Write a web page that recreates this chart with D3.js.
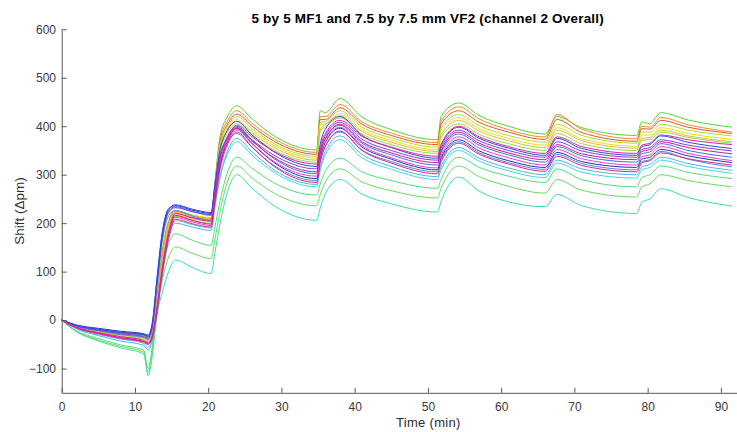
<!DOCTYPE html>
<html>
<head>
<meta charset="utf-8">
<script src="https://cdn.jsdelivr.net/npm/d3@7"></script>
<style>
  body { margin: 0; background: #fff; }
  svg { display: block; font-family: "Liberation Sans", Arial, Helvetica, sans-serif; }
</style>
</head>
<body>
<svg id="chart" width="737" height="432"></svg>
<script>
// Sample times (min) shared by every channel trace
const timeMin = [0, 2, 5, 8, 11.2, 11.8, 12.4, 13.0, 13.7, 14.6, 15.5, 17.8, 20.4, 20.9, 21.6, 22.6, 23.9, 26, 29, 34.8,
                 35.3, 36.0, 38, 41, 45, 51.3, 51.8, 54.2, 57, 61, 66, 67.6, 71, 78.5, 79.2, 80.3, 81.8, 85.5, 91.5];

// Shift (Δpm) of each trace at those times
const s01 = [0,-11,-19,-25,-30,-34,-20,45,140,205,226,217,210,280,377,419,442,415,380,351,432,428,457,419,393,372,420,448,422,400,384,420,397,381,409,405,428,413,398];
const s02 = [0,-11,-20,-26,-32,-36,-22,40,130,200,224,216,210,277,370,410,432,406,374,346,420,420,445,409,386,366,410,440,415,393,378,424,394,374,400,398,418,403,388];
const s03 = [0,-12,-22,-29,-35,-39,-25,35,120,195,220,212,206,272,364,403,425,400,369,342,414,414,438,404,381,362,404,432,408,388,373,414,387,369,395,394,412,398,385];
const s04 = [0,-13,-24,-31,-38,-42,-28,30,115,190,216,209,204,269,360,398,420,395,364,338,408,410,432,398,376,357,397,424,401,381,367,404,381,365,388,388,404,392,380];
const s05 = [0,-13,-22,-30,-36,-40,-26,32,118,192,220,216,212,273,357,394,414,390,360,334,404,405,427,393,371,352,392,418,395,375,361,397,374,359,382,382,397,385,373];
const s06 = [0,-12,-20,-27,-33,-37,-22,38,125,198,222,214,208,269,353,390,410,386,356,330,394,404,422,389,367,348,383,412,390,370,356,392,370,355,375,377,392,380,368];
const s07 = [0,-14,-25,-33,-40,-44,-30,28,110,186,214,206,200,262,344,385,405,381,351,326,390,399,417,384,362,344,378,405,383,364,350,385,364,350,371,373,388,377,365];
const s08 = [0,-15,-26,-34,-42,-46,-30,25,105,182,220,211,204,254,323,374,402,378,348,322,358,385,412,379,357,338,363,400,378,358,344,378,358,344,361,365,382,372,362];
const s09 = [0,-11,-19,-25,-30,-33,-5,80,175,228,238,229,222,278,350,391,410,382,347,317,363,394,420,381,356,334,360,398,375,355,340,375,354,340,358,362,380,367,354];
const s10 = [0,-12,-21,-28,-34,-37,-10,70,165,222,232,224,218,268,335,376,398,372,340,312,350,381,408,373,350,330,355,392,370,350,336,368,349,336,352,356,372,361,349];
const s11 = [0,-15,-27,-36,-44,-48,-32,22,100,178,216,206,198,248,317,368,396,369,335,306,345,375,404,368,345,325,350,388,365,345,331,362,343,331,348,352,368,356,343];
const s12 = [0,-11,-19,-26,-31,-34,-8,75,170,225,234,224,216,268,336,378,400,371,333,302,342,374,402,365,341,320,346,384,361,341,326,358,339,326,343,347,364,350,336];
const s13 = [0,-16,-28,-38,-46,-50,-35,18,95,172,212,203,195,244,313,364,392,364,327,297,337,368,398,360,335,314,340,378,355,335,320,352,333,320,337,341,358,344,329];
const s14 = [0,-10,-17,-23,-28,-31,-2,85,178,230,236,227,220,269,334,374,395,364,325,292,334,367,396,357,332,310,335,372,349,329,315,346,327,315,332,336,352,339,325];
const s15 = [0,-16,-28,-37,-45,-50,-36,15,92,168,208,199,192,241,310,361,388,357,317,284,326,358,390,350,324,302,327,365,342,322,307,338,319,306,324,329,345,333,320];
const s16 = [0,-13,-22,-30,-36,-40,-15,65,160,215,226,215,206,256,322,364,385,356,319,288,328,360,388,351,327,306,331,368,345,325,311,342,323,310,327,331,348,332,316];
const s17 = [0,-18,-32,-43,-52,-62,-40,10,90,170,200,192,185,233,295,347,375,347,310,280,315,348,380,342,317,296,317,356,334,314,300,330,312,300,316,321,336,323,309];
const s18 = [0,-17,-30,-39,-48,-56,-35,15,95,172,205,197,190,235,293,341,368,340,305,275,309,341,372,335,311,290,311,350,328,308,294,324,305,293,310,315,330,317,303];
const s19 = [0,-22,-38,-51,-62,-100,-50,40,105,158,178,165,154,190,245,303,336,313,283,258,281,307,334,306,288,272,291,336,315,297,284,312,290,275,294,300,318,305,292];
const s20 = [0,-23,-41,-54,-66,-108,-60,25,80,130,151,138,127,165,223,284,318,293,262,236,259,285,312,285,267,252,272,318,296,276,262,290,268,254,275,281,300,288,275];
const s21 = [0,-24,-43,-57,-70,-115,-70,10,55,100,124,109,96,137,198,263,300,272,236,206,231,261,290,260,240,223,245,295,266,244,234,259,236,220,243,250,271,253,235];

const seriesValues = [s21, s20, s19, s01, s02, s03, s04, s05, s06, s07, s18, s17, s16, s14, s12, s10, s09, s15, s13, s11, s08];
const seriesColors = ["#32dfae", "#62de58", "#4fdd7a", "#4cd92c", "#f28a24", "#e3532e", "#b2e21e", "#e9df1c", "#e8b53c", "#8ede3c",
                      "#3fd6e6", "#46b6f0", "#4f86ee", "#2030c4", "#3a6cf0", "#7b3fdc", "#2c46df", "#e2247c", "#f03cc0", "#d3168a", "#e61ea6"];

const xTicks = [0, 10, 20, 30, 40, 50, 60, 70, 80, 90];
const yTicks = [-100, 0, 100, 200, 300, 400, 500, 600];
const titleText = "5 by 5 MF1 and 7.5 by 7.5 mm VF2 (channel 2 Overall)";
const xLabel = "Time (min)";
const yLabel = "Shift (\u0394pm)";

const svg = d3.select("#chart");
const x = d3.scaleLinear().domain([0, 92.2]).range([61.7, 737]);
const y = d3.scaleLinear().domain([-150, 600]).range([392.8, 29.3]);

// traces
const line = d3.line()
  .x((d, i) => x(timeMin[i]))
  .y(d => y(d))
  .curve(d3.curveMonotoneX);

svg.append("g")
  .attr("fill", "none")
  .attr("stroke-width", 1)
  .attr("stroke-linejoin", "round")
  .selectAll("path")
  .data(seriesValues)
  .join("path")
  .attr("stroke", (d, i) => seriesColors[i])
  .attr("d", line);

// axes with inward ticks
const axisColor = "#5a5a5a";
const gx = svg.append("g")
  .attr("transform", `translate(0,${y.range()[0]})`)
  .call(d3.axisBottom(x).tickValues(xTicks).tickSizeInner(-5).tickSizeOuter(0).tickPadding(9.5));
const gy = svg.append("g")
  .attr("transform", `translate(${x.range()[0]},0)`)
  .call(d3.axisLeft(y).tickValues(yTicks).tickSizeInner(-5).tickSizeOuter(0).tickPadding(5.7));

[gx, gy].forEach(g => {
  g.attr("color", axisColor);
  g.selectAll("text").attr("fill", "#3a3a3a").style("font-size", "12px")
    .style("font-family", "\"Liberation Sans\", Arial, Helvetica, sans-serif");
});

// title and axis labels
svg.append("text")
  .attr("x", 427.7).attr("y", 23.3)
  .attr("text-anchor", "middle")
  .style("font-size", "13.5px").style("font-weight", "bold").style("letter-spacing", "0.2px")
  .attr("fill", "#000")
  .text(titleText);

svg.append("text")
  .attr("x", 428.3).attr("y", 427)
  .attr("text-anchor", "middle")
  .style("font-size", "13px").style("letter-spacing", "0.3px")
  .attr("fill", "#2e2e2e")
  .text(xLabel);

svg.append("text")
  .attr("transform", "translate(24,211) rotate(-90)")
  .attr("text-anchor", "middle")
  .style("font-size", "13.5px")
  .attr("fill", "#2e2e2e")
  .text(yLabel);
</script>
</body>
</html>
